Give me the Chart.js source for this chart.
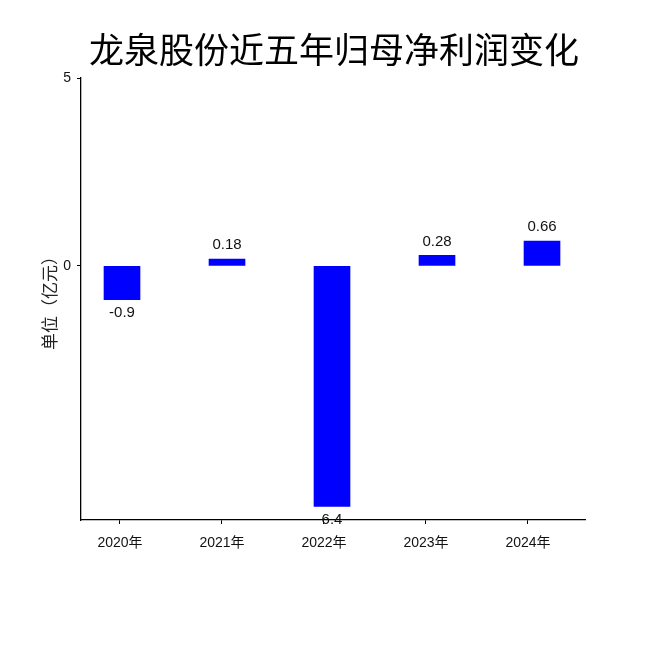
<!DOCTYPE html>
<html>
<head>
<meta charset="utf-8">
<script src="https://cdn.jsdelivr.net/npm/chart.js@4/dist/chart.umd.min.js"></script>
<style>
html,body{margin:0;padding:0;background:#fff;}
#wrap{width:650px;height:650px;position:relative;}
</style>
</head>
<body>
<div id="wrap"><canvas id="c" width="650" height="650"></canvas></div>
<script>
const titleText = '龙泉股份近五年归母净利润变化';
const yAxisTitle = '单位（亿元）';
const categories = ['2020年', '2021年', '2022年', '2023年', '2024年'];
const values = [-0.9, 0.18, -6.4, 0.28, 0.66];
const valueLabels = ['-0.9', '0.18', '6.4', '0.28', '0.66'];
const yTicks = [0, 5];

const FONT = "'Liberation Sans', 'Noto Sans CJK SC', sans-serif";
const CJK = "'Noto Sans CJK SC', 'Liberation Sans', sans-serif";

const overlay = {
  id: 'overlay',
  afterDraw(chart) {
    const ctx = chart.ctx;
    ctx.save();
    ctx.fillStyle = '#000';
    ctx.font = "35px " + CJK;
    ctx.textAlign = 'center';
    ctx.textBaseline = 'middle';
    ctx.fillText(titleText, 334, 50);
    ctx.save();
    ctx.translate(50, 299);
    ctx.rotate(-Math.PI / 2);
    ctx.font = "17px " + CJK;
    ctx.fillStyle = '#222';
    ctx.fillText(yAxisTitle, 0, 0);
    ctx.restore();
    const meta = chart.getDatasetMeta(0);
    ctx.font = "15px " + FONT;
    ctx.fillStyle = '#111';
    meta.data.forEach((bar, i) => {
      const v = values[i];
      const p = bar.getProps(['x', 'y', 'base'], true);
      const y = v >= 0 ? p.y - 14 : p.y + 13;
      ctx.fillText(valueLabels[i], p.x, y);
    });
    ctx.restore();
  }
};

new Chart(document.getElementById('c'), {
  type: 'bar',
  data: {
    datasets: [{
      xAxisID: 'xb',
      data: values.map((v, i) => ({ x: i, y: v })),
      backgroundColor: '#0000ff',
      borderWidth: 0,
      barThickness: 36
    }]
  },
  options: {
    responsive: false,
    animation: false,
    layout: { padding: { top: 78, left: 0, right: 65, bottom: 0 } },
    plugins: {
      legend: { display: false },
      title: { display: false },
      tooltip: { enabled: false }
    },
    scales: {
      xb: {
        type: 'linear',
        position: 'bottom',
        display: false,
        min: -0.3905,
        max: 4.4095,
        offset: false
      },
      x: {
        type: 'linear',
        position: 'bottom',
        min: -0.382,
        max: 4.559,
        offset: false,
        afterBuildTicks(scale) { scale.ticks = categories.map((c, i) => ({ value: i })); },
        afterFit(scale) { scale.height = 130; },
        ticks: {
          autoSkip: false,
          maxRotation: 0,
          padding: 11,
          color: '#111',
          font: { family: FONT, size: 14 },
          callback: (v) => categories[v]
        },
        grid: { offset: false, drawOnChartArea: false, drawTicks: true, tickLength: 4, tickColor: '#000' },
        border: { display: true, color: '#000', width: 1.3 }
      },
      y: {
        min: -6.76,
        max: 5,
        afterBuildTicks(scale) { scale.ticks = yTicks.map(v => ({ value: v })); },
        afterFit(scale) { scale.width = 81; },
        ticks: {
          padding: 6,
          color: '#111',
          font: { family: FONT, size: 14 }
        },
        grid: { offset: false, drawOnChartArea: false, drawTicks: true, tickLength: 4, tickColor: '#000' },
        border: { display: true, color: '#000', width: 1.3 }
      }
    }
  },
  plugins: [overlay]
});
</script>
</body>
</html>
